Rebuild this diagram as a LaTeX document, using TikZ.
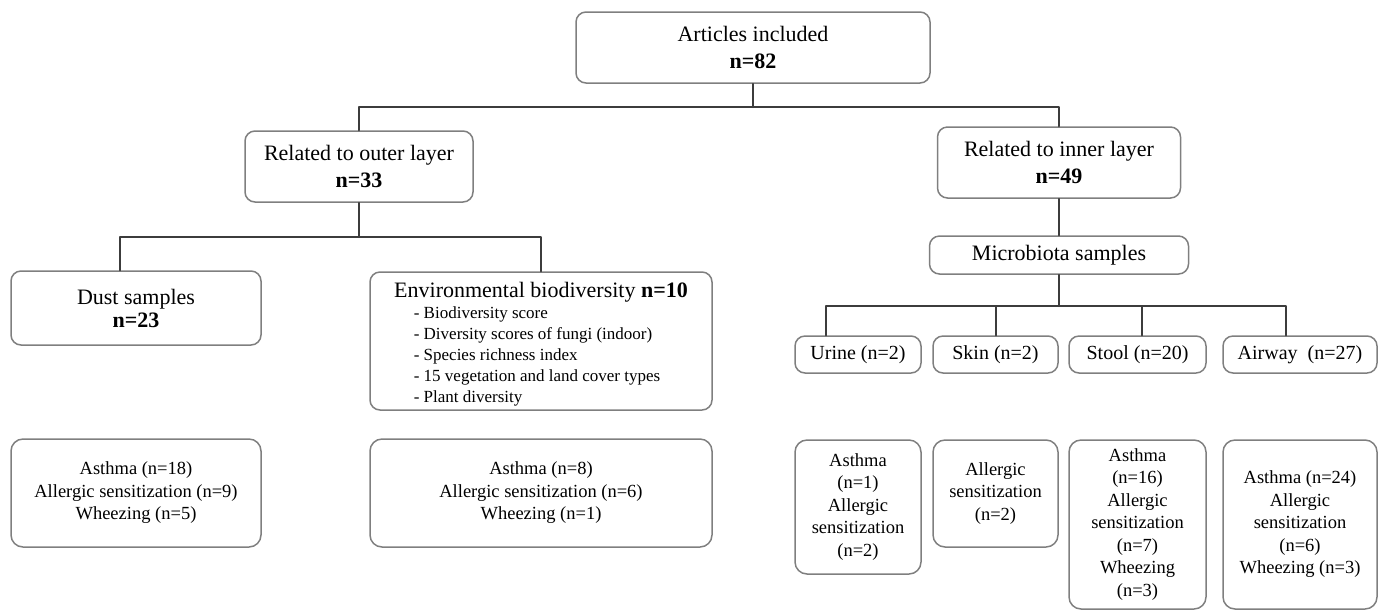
\documentclass[tikz,border=0pt]{standalone}
\usepackage{fontspec}
\setmainfont{Liberation Serif}
\definecolor{boxgray}{HTML}{7F7F7F}
\definecolor{linegray}{HTML}{3C3C3C}
\begin{document}
\begin{tikzpicture}[x=0.5pt,y=-0.5pt,line join=round,line cap=round,
		hop/.style={draw=boxgray,line width=0.75pt,rounded corners=5pt,align=center,inner sep=0pt,text=black},
		big/.style={hop,font=\fontsize{11}{13.5}\selectfont},
		kid/.style={hop,font=\fontsize{10}{12}\selectfont,minimum height=18.5pt},
		res/.style={hop,rounded corners=6pt,font=\fontsize{9.25}{11.25}\selectfont},
		conn/.style={draw=linegray,line width=1pt}] % flow of included articles
		\useasboundingbox (0,0) rectangle (1379,612);
		\node[big,minimum width=177pt,minimum height=35.5pt] (art) at (753,47.5) {Articles included\\\textbf{n=82}};
		\node[big,minimum width=114pt,minimum height=35.5pt] (outer) at (359,166.5) {Related to outer layer\\\textbf{n=33}};
		\node[big,minimum width=121.5pt,minimum height=35.5pt] (inner) at (1059,162.5) {Related to inner layer\\\textbf{n=49}};
		\node[big,minimum width=129.5pt,minimum height=19pt] (micro) at (1059,255) {Microbiota samples};
		\node[big,minimum width=125pt,minimum height=37pt] (dust) at (136,308) {Dust samples\\[-2pt]\textbf{n=23}};
		\node[big,minimum width=171pt,minimum height=69pt,font={\fontsize{11}{13.5}\selectfont\lineskiplimit-20pt\relax}] (env) at (541,341) {\rule{0pt}{12.6pt}Environmental biodiversity \textbf{n=10}\\[-3pt]\hspace*{-4pt}{\fontsize{8.5}{10.5}\selectfont\lineskiplimit0pt\relax\begin{tabular}[t]{@{}l@{}}- Biodiversity score\\- Diversity scores of fungi (indoor)\\- Species richness index\\- 15 vegetation and land cover types\\- Plant diversity\end{tabular}}};
		\node[kid,minimum width=63pt] (urine) at (858,354.5) {Urine (n=2)};
		\node[kid,minimum width=62.5pt] (skin) at (995.5,354.5) {Skin (n=2)};
		\node[kid,minimum width=68.5pt] (stool) at (1137.5,354.5) {Stool (n=20)};
		\node[kid,minimum width=77pt] (airway) at (1300,354.5) {Airway~ (n=27)};
		\node[res,minimum width=125pt,minimum height=54pt] (dustout) at (136,493) {Asthma (n=18)\\Allergic sensitization (n=9)\\Wheezing (n=5)};
		\node[res,minimum width=171pt,minimum height=54pt] (envout) at (541,493) {Asthma (n=8)\\Allergic sensitization (n=6)\\Wheezing (n=1)};
		\node[res,minimum width=63pt,minimum height=67pt] (urineout) at (858,507) {Asthma\\(n=1)\\Allergic\\sensitization\\(n=2)};
		\node[res,minimum width=62.5pt,minimum height=53.5pt] (skinout) at (995.5,493.5) {Allergic\\sensitization\\(n=2)};
		\node[res,minimum width=68.5pt,minimum height=84.5pt] (stoolout) at (1137.5,524.5) {Asthma\\(n=16)\\Allergic\\sensitization\\(n=7)\\Wheezing\\(n=3)};
		\node[res,minimum width=77pt,minimum height=84.5pt] (airout) at (1300,524.5) {Asthma (n=24)\\Allergic\\sensitization\\(n=6)\\Wheezing (n=3)};
		\coordinate (busA) at (753,107);
		\coordinate (busB) at (359,237);
		\coordinate (busC) at (1059,306);
		\draw[conn] (art.south) -- (busA);
		\draw[conn] (outer.north) |- (busA) -| (inner.north);
		\draw[conn] (outer.south) -- (busB);
		\draw[conn] ([xshift=-8pt]dust.north) |- (busB) -| (env.north);
		\draw[conn] (inner.south) -- (micro.north);
		\draw[conn] (micro.south) -- (busC);
		\draw[conn] ([xshift=-16pt]urine.north) |- (busC) -| ([xshift=-7pt]airway.north);
		\draw[conn] (skin.north) |- (busC);
		\draw[conn] ([xshift=2pt]stool.north) |- (busC);
	\end{tikzpicture}
\end{document}
